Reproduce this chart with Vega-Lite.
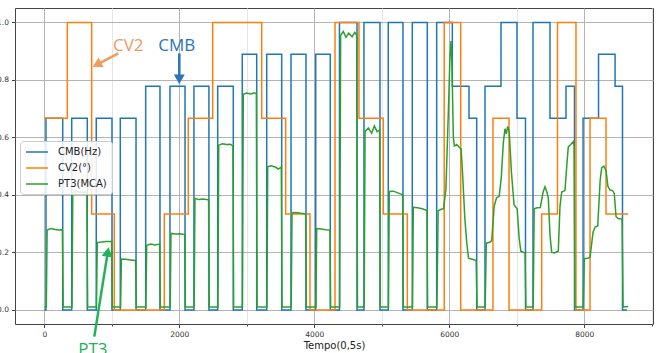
{
"$schema": "https://vega.github.io/schema/vega-lite/v6.json",
"width": 638, "height": 316,
"autosize": {"type": "none"},
"padding": {"left": 15, "top": 8, "right": 8, "bottom": 29},
"background": "white",
"config": {"view": {"stroke": "#444", "strokeWidth": 1}, "font": "DejaVu Sans"},
"datasets": {
"cmb": [
{"t":0,"v":0},{"t":25,"v":0.6667},{"t":273,"v":0},{"t":406,"v":0.6667},{"t":637,"v":0},{"t":770,"v":0.6667},{"t":1003,"v":0},{"t":1126,"v":0.6667},{"t":1359,"v":0},{"t":1502,"v":0.7778},{"t":1714,"v":0},{"t":1862,"v":0.7778},{"t":2085,"v":0},{"t":2217,"v":0.7778},{"t":2439,"v":0},{"t":2569,"v":0.7778},{"t":2800,"v":0},{"t":2933,"v":0.8889},{"t":3147,"v":0},{"t":3295,"v":0.8889},{"t":3517,"v":0},{"t":3655,"v":0.8889},{"t":3877,"v":0},{"t":4021,"v":0.8889},{"t":4237,"v":0},{"t":4373,"v":1},{"t":4633,"v":0},{"t":4736,"v":1},{"t":4973,"v":0},{"t":5096,"v":1},{"t":5314,"v":0},{"t":5452,"v":1},{"t":5674,"v":0},{"t":5813,"v":1},{"t":6045,"v":0.7778},{"t":6292,"v":0.6667},{"t":6406,"v":0},{"t":6529,"v":0.7778},{"t":6766,"v":1},{"t":7003,"v":0.6667},{"t":7129,"v":0},{"t":7240,"v":1},{"t":7492,"v":0.6667},{"t":7729,"v":0.7778},{"t":7855,"v":0},{"t":7982,"v":0.6667},{"t":8211,"v":0.8889},{"t":8456,"v":0.7778},{"t":8566,"v":0},{"t":8633,"v":0}
],
"cv2": [
{"t":0,"v":0.6667},{"t":341,"v":1},{"t":702,"v":0.3333},{"t":1037,"v":0},{"t":1778,"v":0.3333},{"t":2133,"v":0.6667},{"t":2495,"v":1},{"t":3221,"v":0.6667},{"t":3576,"v":0.3333},{"t":3936,"v":0},{"t":4307,"v":1},{"t":4662,"v":0.6667},{"t":5022,"v":0.3333},{"t":5378,"v":0},{"t":5925,"v":1},{"t":6169,"v":0},{"t":6647,"v":0.6667},{"t":6885,"v":0},{"t":7369,"v":0.3333},{"t":7603,"v":1},{"t":7877,"v":0},{"t":8085,"v":0.6667},{"t":8322,"v":0.3333},{"t":8650,"v":0.3333}
],
"pt3": [
{"t":0,"v":0.01},{"t":30,"v":0.01},{"t":42,"v":0.278},{"t":100,"v":0.283},{"t":160,"v":0.28},{"t":220,"v":0.278},{"t":268,"v":0.279},{"t":280,"v":0.01},
{"t":410,"v":0.01},{"t":422,"v":0.408},{"t":480,"v":0.412},{"t":550,"v":0.409},{"t":630,"v":0.41},{"t":642,"v":0.01},
{"t":773,"v":0.01},{"t":785,"v":0.234},{"t":850,"v":0.236},{"t":920,"v":0.238},{"t":998,"v":0.238},{"t":1008,"v":0.01},
{"t":1130,"v":0.01},{"t":1142,"v":0.177},{"t":1200,"v":0.176},{"t":1280,"v":0.174},{"t":1352,"v":0.172},{"t":1364,"v":0.01},
{"t":1505,"v":0.01},{"t":1517,"v":0.225},{"t":1580,"v":0.229},{"t":1640,"v":0.226},{"t":1708,"v":0.229},{"t":1719,"v":0.01},
{"t":1865,"v":0.01},{"t":1877,"v":0.266},{"t":1950,"v":0.264},{"t":2010,"v":0.265},{"t":2080,"v":0.262},{"t":2090,"v":0.01},
{"t":2220,"v":0.01},{"t":2232,"v":0.387},{"t":2290,"v":0.384},{"t":2350,"v":0.386},{"t":2434,"v":0.383},{"t":2444,"v":0.01},
{"t":2572,"v":0.01},{"t":2584,"v":0.573},{"t":2640,"v":0.578},{"t":2700,"v":0.575},{"t":2760,"v":0.576},{"t":2795,"v":0.57},{"t":2805,"v":0.01},
{"t":2936,"v":0.01},{"t":2948,"v":0.75},{"t":3000,"v":0.754},{"t":3060,"v":0.751},{"t":3110,"v":0.755},{"t":3142,"v":0.752},{"t":3152,"v":0.01},
{"t":3298,"v":0.01},{"t":3310,"v":0.498},{"t":3360,"v":0.501},{"t":3420,"v":0.497},{"t":3470,"v":0.49},{"t":3512,"v":0.497},{"t":3522,"v":0.01},
{"t":3658,"v":0.01},{"t":3670,"v":0.337},{"t":3730,"v":0.339},{"t":3800,"v":0.336},{"t":3872,"v":0.334},{"t":3882,"v":0.01},
{"t":4024,"v":0.01},{"t":4036,"v":0.283},{"t":4100,"v":0.281},{"t":4170,"v":0.279},{"t":4232,"v":0.278},{"t":4242,"v":0.01},
{"t":4376,"v":0.01},{"t":4390,"v":0.955},{"t":4430,"v":0.968},{"t":4470,"v":0.948},{"t":4510,"v":0.962},{"t":4560,"v":0.95},{"t":4600,"v":0.965},{"t":4628,"v":0.955},{"t":4640,"v":0.01},
{"t":4739,"v":0.01},{"t":4752,"v":0.62},{"t":4800,"v":0.633},{"t":4850,"v":0.615},{"t":4890,"v":0.64},{"t":4930,"v":0.62},{"t":4968,"v":0.625},{"t":4978,"v":0.01},
{"t":5099,"v":0.01},{"t":5111,"v":0.412},{"t":5170,"v":0.413},{"t":5240,"v":0.407},{"t":5309,"v":0.4},{"t":5319,"v":0.01},
{"t":5455,"v":0.01},{"t":5467,"v":0.357},{"t":5530,"v":0.355},{"t":5600,"v":0.352},{"t":5669,"v":0.346},{"t":5679,"v":0.01},
{"t":5816,"v":0.01},{"t":5835,"v":0.345},{"t":5880,"v":0.35},{"t":5915,"v":0.352},{"t":5950,"v":0.42},{"t":5985,"v":0.68},{"t":6010,"v":0.88},{"t":6025,"v":0.935},{"t":6040,"v":0.85},{"t":6060,"v":0.6},{"t":6075,"v":0.57},{"t":6110,"v":0.575},{"t":6150,"v":0.565},{"t":6175,"v":0.56},{"t":6200,"v":0.46},{"t":6230,"v":0.32},{"t":6258,"v":0.235},{"t":6285,"v":0.18},{"t":6340,"v":0.176},{"t":6398,"v":0.172},{"t":6412,"v":0.01},
{"t":6532,"v":0.01},{"t":6548,"v":0.232},{"t":6600,"v":0.235},{"t":6628,"v":0.24},{"t":6665,"v":0.36},{"t":6700,"v":0.39},{"t":6740,"v":0.395},{"t":6770,"v":0.46},{"t":6800,"v":0.58},{"t":6825,"v":0.63},{"t":6845,"v":0.612},{"t":6865,"v":0.638},{"t":6888,"v":0.62},{"t":6920,"v":0.48},{"t":6960,"v":0.365},{"t":7005,"v":0.352},{"t":7035,"v":0.25},{"t":7060,"v":0.204},{"t":7123,"v":0.198},{"t":7135,"v":0.01},
{"t":7243,"v":0.01},{"t":7258,"v":0.352},{"t":7300,"v":0.355},{"t":7348,"v":0.356},{"t":7390,"v":0.41},{"t":7418,"v":0.428},{"t":7445,"v":0.41},{"t":7467,"v":0.39},{"t":7492,"v":0.26},{"t":7517,"v":0.2},{"t":7560,"v":0.198},{"t":7615,"v":0.205},{"t":7640,"v":0.36},{"t":7665,"v":0.41},{"t":7714,"v":0.415},{"t":7740,"v":0.5},{"t":7763,"v":0.567},{"t":7800,"v":0.575},{"t":7837,"v":0.585},{"t":7850,"v":0.57},{"t":7862,"v":0.01},
{"t":7985,"v":0.01},{"t":8000,"v":0.178},{"t":8050,"v":0.18},{"t":8085,"v":0.183},{"t":8130,"v":0.27},{"t":8160,"v":0.288},{"t":8199,"v":0.292},{"t":8235,"v":0.45},{"t":8258,"v":0.495},{"t":8290,"v":0.5},{"t":8322,"v":0.485},{"t":8350,"v":0.43},{"t":8381,"v":0.417},{"t":8420,"v":0.415},{"t":8444,"v":0.405},{"t":8470,"v":0.325},{"t":8500,"v":0.318},{"t":8560,"v":0.316},{"t":8575,"v":0.01},{"t":8650,"v":0.012}
],
"notes": [
{"label":"CV2","t":1244,"y":0.901,"c":"#F09A5C"},
{"label":"CMB","t":1961,"y":0.901,"c":"#2A74BA"},
{"label":"PT3","t":719,"y":-0.156,"c":"#22B25A"}
],
"arrows": [
{"t":1096,"y":0.892,"t2":800,"y2":0.856,"a":243,"c":"#F09A5C"},
{"t":2000,"y":0.892,"t2":2000,"y2":0.808,"a":180,"c":"#2A74BA"},
{"t":741,"y":-0.093,"t2":937,"y2":0.196,"a":9,"c":"#22B25A"}
]
},
"layer": [
{
"data": {"name": "cmb"},
"transform": [{"calculate": "'CMB(Hz)'", "as": "s"}],
"mark": {"type": "line", "interpolate": "step-after", "strokeWidth": 1.5},
"encoding": {
"x": {"field": "t", "type": "quantitative", "scale": {"domain": [-434, 9018], "nice": false, "zero": false},
 "axis": {"values": [0,500,1000,1500,2000,2500,3000,3500,4000,4500,5000,5500,6000,6500,7000,7500,8000,8500,9000],
  "format": "d", "labelExpr": "datum.value % 2000 === 0 ? datum.label : ''", "labelOverlap": false, "labelFlush": false,
  "title": "Tempo(0,5s)", "titleFont": "DejaVu Sans", "titleFontSize": 10, "titleFontWeight": "normal", "titleColor": "#222", "titlePadding": 2,
  "domain": false, "grid": true,
  "gridColor": {"condition": {"test": "datum.value % 2000 === 0", "value": "#b4b4b4"}, "value": "#e6e6e6"},
  "tickSize": {"condition": {"test": "datum.value % 2000 === 0", "value": 3.5}, "value": 2},
  "tickColor": "#444", "labelFont": "DejaVu Sans", "labelFontSize": 7.5, "labelColor": "#333", "labelPadding": 3}},
"y": {"field": "v", "type": "quantitative", "scale": {"domain": [-0.049, 1.05], "nice": false, "zero": false},
 "axis": {"values": [0,0.05,0.1,0.15,0.2,0.25,0.3,0.35,0.4,0.45,0.5,0.55,0.6,0.65,0.7,0.75,0.8,0.85,0.9,0.95,1],
  "labelExpr": "abs(datum.value*5 - round(datum.value*5)) < 0.001 ? format(datum.value, '.1f') : ''", "labelOverlap": false, "labelFlush": false,
  "title": null, "domain": false, "grid": true,
  "gridColor": {"condition": {"test": "abs(datum.value*5 - round(datum.value*5)) < 0.001", "value": "#b4b4b4"}, "value": "#e6e6e6"},
  "tickSize": {"condition": {"test": "abs(datum.value*5 - round(datum.value*5)) < 0.001", "value": 3.5}, "value": 2},
  "tickColor": "#444", "labelFont": "DejaVu Sans", "labelFontSize": 7.5, "labelColor": "#333", "labelPadding": 3}},
"color": {"field": "s", "type": "nominal",
 "scale": {"domain": ["CMB(Hz)", "CV2(°)", "PT3(MCA)"], "range": ["#1f77b4", "#ff7f0e", "#2ca02c"]},
 "legend": {"orient": "none", "legendX": 5, "legendY": 133, "title": null, "symbolType": "M-1,0H3.4", "symbolSize": 100, "symbolStrokeWidth": 1.5,
  "labelFont": "DejaVu Sans", "labelFontSize": 10, "labelColor": "#222", "fillColor": "rgba(255,255,255,0.85)", "strokeColor": "#cccccc", "cornerRadius": 3,
  "padding": 5, "rowPadding": 5, "labelOffset": 21}}
}
},
{
"data": {"name": "cv2"},
"transform": [{"calculate": "'CV2(°)'", "as": "s"}],
"mark": {"type": "line", "interpolate": "step-after", "strokeWidth": 1.5},
"encoding": {
"x": {"field": "t", "type": "quantitative"},
"y": {"field": "v", "type": "quantitative"},
"color": {"field": "s", "type": "nominal"}
}
},
{
"data": {"name": "pt3"},
"transform": [{"calculate": "'PT3(MCA)'", "as": "s"}],
"mark": {"type": "line", "strokeWidth": 1.5},
"encoding": {
"x": {"field": "t", "type": "quantitative"},
"y": {"field": "v", "type": "quantitative"},
"color": {"field": "s", "type": "nominal"}
}
},
{
"data": {"name": "arrows"},
"mark": {"type": "rule", "strokeWidth": 2.5},
"encoding": {
"x": {"field": "t", "type": "quantitative"},
"y": {"field": "y", "type": "quantitative"},
"x2": {"field": "t2"},
"y2": {"field": "y2"},
"stroke": {"field": "c", "type": "nominal", "scale": null}
}
},
{
"data": {"name": "arrows"},
"mark": {"type": "point", "shape": "triangle", "filled": true, "size": 120, "opacity": 1},
"encoding": {
"x": {"field": "t2", "type": "quantitative"},
"y": {"field": "y2", "type": "quantitative"},
"angle": {"field": "a", "type": "quantitative", "scale": {"domain": [0, 360], "range": [0, 360]}},
"fill": {"field": "c", "type": "nominal", "scale": null}
}
},
{
"data": {"name": "notes"},
"mark": {"type": "text", "font": "Open Sans", "fontSize": 17, "align": "center", "baseline": "alphabetic"},
"encoding": {
"x": {"field": "t", "type": "quantitative"},
"y": {"field": "y", "type": "quantitative"},
"text": {"field": "label"},
"fill": {"field": "c", "type": "nominal", "scale": null}
}
}
]
}
